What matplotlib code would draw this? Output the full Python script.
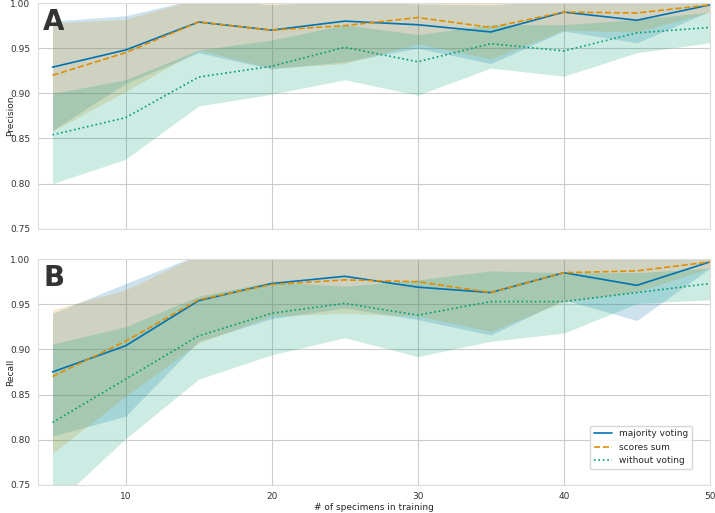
import matplotlib.pyplot as plt
import seaborn as sns

sns.set_style("whitegrid")

n_train = [5, 10, 15, 20, 25, 30, 35, 40, 45, 50]
labels = ["majority voting", "scores sum", "without voting"]
colors = ["#0173b2", "#de8f05", "#029e73"]
styles = ["-", "--", ":"]

# Precision (panel A): mean, lower and upper band
prec_mean = [
    [0.929, 0.948, 0.979, 0.970, 0.980, 0.976, 0.968, 0.990, 0.981, 0.998],
    [0.920, 0.945, 0.979, 0.970, 0.975, 0.984, 0.973, 0.990, 0.989, 0.998],
    [0.854, 0.873, 0.918, 0.930, 0.951, 0.935, 0.955, 0.947, 0.967, 0.973],
]
prec_low = [
    [0.859, 0.911, 0.945, 0.927, 0.935, 0.950, 0.933, 0.969, 0.956, 0.991],
    [0.858, 0.902, 0.948, 0.928, 0.933, 0.955, 0.938, 0.970, 0.968, 0.990],
    [0.800, 0.827, 0.886, 0.899, 0.915, 0.898, 0.928, 0.919, 0.945, 0.956],
]
prec_high = [
    [0.980, 0.986, 1.005, 0.998, 1.003, 0.999, 0.998, 1.003, 1.002, 1.001],
    [0.978, 0.982, 1.005, 1.003, 1.005, 1.005, 1.005, 1.005, 1.003, 1.001],
    [0.900, 0.915, 0.948, 0.959, 0.976, 0.965, 0.976, 0.976, 0.982, 0.990],
]

# Recall (panel B)
rec_mean = [
    [0.875, 0.904, 0.954, 0.973, 0.981, 0.969, 0.963, 0.985, 0.971, 0.997],
    [0.870, 0.909, 0.955, 0.972, 0.977, 0.975, 0.963, 0.985, 0.987, 0.997],
    [0.819, 0.867, 0.915, 0.940, 0.951, 0.938, 0.953, 0.953, 0.963, 0.973],
]
rec_low = [
    [0.804, 0.826, 0.909, 0.934, 0.946, 0.933, 0.916, 0.955, 0.932, 0.990],
    [0.785, 0.848, 0.907, 0.937, 0.940, 0.937, 0.920, 0.953, 0.964, 0.990],
    [0.726, 0.801, 0.867, 0.894, 0.913, 0.892, 0.909, 0.918, 0.951, 0.955],
]
rec_high = [
    [0.940, 0.973, 1.005, 1.003, 1.005, 1.003, 1.003, 1.005, 1.003, 1.001],
    [0.944, 0.966, 1.005, 1.005, 1.005, 1.005, 1.005, 1.005, 1.005, 1.001],
    [0.906, 0.925, 0.959, 0.975, 0.970, 0.977, 0.987, 0.985, 0.985, 0.990],
]

fig, (ax1, ax2) = plt.subplots(2, 1, figsize=(7.15, 5.13), dpi=100, sharex=True)
fig.subplots_adjust(left=0.053, right=0.993, top=0.994, bottom=0.055, hspace=0.135)

panels = [
    (ax1, prec_mean, prec_low, prec_high, "Precision", "A"),
    (ax2, rec_mean, rec_low, rec_high, "Recall", "B"),
]
for ax, mean, low, high, ylab, tag in panels:
    for i in range(3):
        ax.fill_between(n_train, low[i], high[i], color=colors[i], alpha=0.2, linewidth=0)
        ax.plot(n_train, mean[i], color=colors[i], linestyle=styles[i], linewidth=1.2,
                label=labels[i])
    ax.set_ylim(0.75, 1.0)
    ax.set_xlim(4, 50)
    ax.set_yticks([0.75, 0.80, 0.85, 0.90, 0.95, 1.00])
    ax.set_ylabel(ylab, fontsize=6.5)
    ax.yaxis.set_label_coords(-0.034, 0.5)
    ax.tick_params(labelsize=6.5, pad=2, colors="#333333")
    ax.text(0.008, 0.98, tag, transform=ax.transAxes, fontsize=20, fontweight="bold",
            va="top", ha="left", color="#333333")
    for s in ax.spines.values():
        s.set_color("#dddddd")

ax2.set_xticks([10, 20, 30, 40, 50])
ax2.set_xlabel("# of specimens in training", fontsize=6.5, labelpad=1)
ax2.legend(loc="lower right", fontsize=6.5, frameon=True, bbox_to_anchor=(0.98, 0.05))

plt.savefig("out.png", dpi=100)
